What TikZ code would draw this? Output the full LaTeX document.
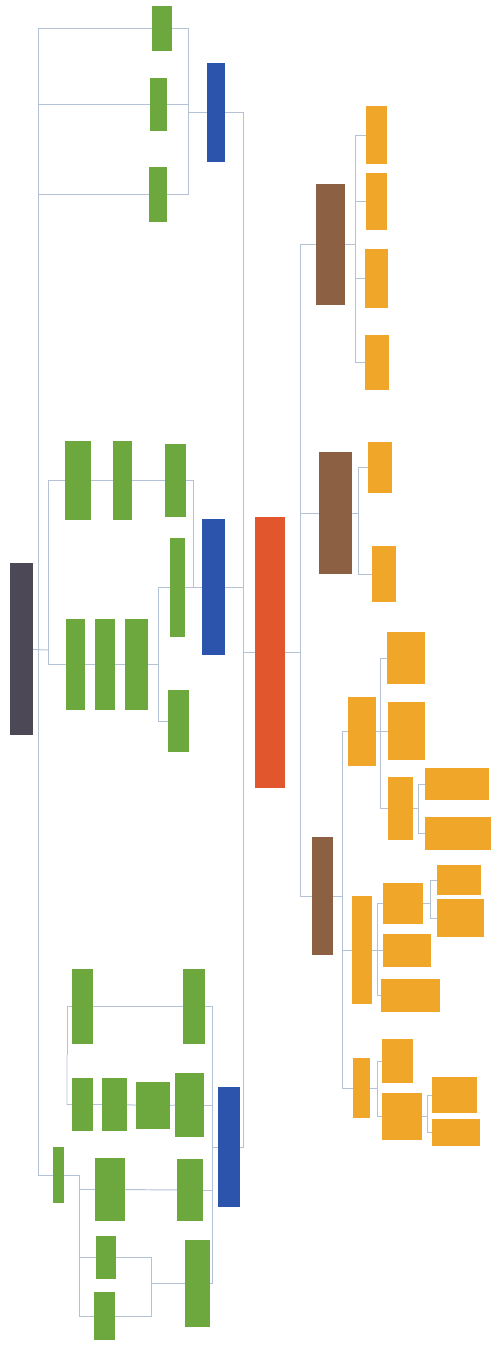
\documentclass[tikz,border=0pt]{standalone}
\usetikzlibrary{backgrounds}
\definecolor{mmG}{RGB}{108,168,62}
\definecolor{mmB}{RGB}{44,84,172}
\definecolor{mmR}{RGB}{226,86,46}
\definecolor{mmN}{RGB}{140,96,66}
\definecolor{mmO}{RGB}{240,166,40}
\definecolor{mmD}{RGB}{76,72,86}
\definecolor{mmL}{RGB}{180,194,214}
\newcommand{\PX}{0.02cm}

\begin{document}
\begin{tikzpicture}[
    x=\PX, y=-\PX,
    box/.style={rectangle, inner sep=0pt, outer sep=0pt},
    gbox/.style={box, fill=mmG},
    bbox/.style={box, fill=mmB},
    rbox/.style={box, fill=mmR},
    nbox/.style={box, fill=mmN},
    obox/.style={box, fill=mmO},
    dbox/.style={box, fill=mmD},
    link/.style={draw=mmL, line width=0.55pt},
  ]
  \useasboundingbox (0,0) rectangle (491,1345);

  % box from its corners: #1 name, #2 style, #3 #4 top left, #5 #6 bottom right
  \newcommand{\bx}[6]{%
    \node[#2, minimum width={(#5-#3)*\PX}, minimum height={(#6-#4)*\PX}]
      (#1) at ({(#3+#5)/2},{(#4+#6)/2}) {};}

  %% ================= root and first level =================
  \bx{root}{rbox}{255}{517}{285}{788}
  \bx{dark}{dbox}{10}{563}{33}{735}
  \foreach \n/\a/\b/\c/\d in {blu1/207/63/225/162, blu2/202/519/225/655,
                              blu3/218/1087/240/1207}
    {\bx{\n}{bbox}{\a}{\b}{\c}{\d}}
  \foreach \n/\a/\b/\c/\d in {brn1/316/184/345/305, brn2/319/452/352/574,
                              brn3/312/837/333/955}
    {\bx{\n}{nbox}{\a}{\b}{\c}{\d}}

  %% ================= green branches (left) =================
  \foreach \n/\a/\b/\c/\d in {
      g1a/152/6/172/51, g1b/150/78/167/131, g1c/149/167/167/222,
      m1/65/441/91/520, m2/113/441/132/520, m3/165/444/186/517,
      m4/170/538/185/637, m5/168/690/189/752,
      m6/66/619/85/710, m7/95/619/115/710, m8/125/619/148/710,
      s0/53/1147/64/1203,
      e1/72/969/93/1044, e2/183/969/205/1044,
      b1/72/1078/93/1131, b2/102/1078/127/1131, b3/136/1082/170/1129,
      b4/175/1073/204/1137,
      c1/95/1158/125/1221, c2/177/1159/203/1221,
      d1/96/1236/116/1279, d2/94/1292/115/1340, d3/185/1240/210/1327}
    {\bx{\n}{gbox}{\a}{\b}{\c}{\d}}

  %% ================= orange branches (right) =================
  \foreach \n/\a/\b/\c/\d in {
      o1/366/106/387/164, o2/366/173/387/230, o3/365/249/388/308,
      o4/365/335/389/390, o5/368/442/392/493, o6/372/546/396/602,
      oa/348/697/376/766, oa1/387/632/425/684, oa2/388/702/425/760,
      oa3/388/777/413/840, oa31/425/768/489/800, oa32/425/817/491/850,
      ob/352/896/372/1004, ob1/383/883/423/924, ob11/437/865/481/895,
      ob12/437/899/484/937, ob2/383/934/431/967, ob3/381/979/440/1012,
      oc/353/1058/370/1118, oc1/382/1039/413/1083, oc2/382/1093/422/1140,
      oc21/432/1077/477/1113, oc22/432/1119/480/1146}
    {\bx{\n}{obox}{\a}{\b}{\c}{\d}}

  % bracket points
  \coordinate (jL) at (243,652.5);  \coordinate (jR) at (300,652.5);
  \coordinate (k1) at (355,244.5);  \coordinate (k2) at (358,513);
  \coordinate (k3) at (342,896);    \coordinate (ka) at (380,731.5);
  \coordinate (ka3) at (418,808.5); \coordinate (kb) at (377,950);
  \coordinate (kb1) at (430,903.5); \coordinate (kc) at (377,1088);
  \coordinate (kc2) at (427,1116.5);
  \coordinate (q1) at (188,112.5);  \coordinate (Ltop) at (38,28.5);
  \coordinate (q2) at (158,587);    \coordinate (q4) at (193,587);
  \coordinate (q3) at (48,650);     \coordinate (q5) at (212,1147);
  \coordinate (q6) at (67,1055);    \coordinate (q7) at (79,1175);
  \coordinate (q8) at (151,1283.5);

  \begin{scope}[on background layer]
    % root to first level
    \draw[link] (root) -- (jL) (root) -- (jR);
    \foreach \n in {blu1,blu2,blu3} \draw[link] (jL) |- (\n);
    \foreach \n in {brn1,brn2,brn3} \draw[link] (jR) |- (\n);

    % right side
    \draw[link] (brn1) -- (k1);
    \foreach \n in {o1,o2,o3,o4} \draw[link] (k1) |- (\n);
    \draw[link] (brn2) -- (k2);
    \foreach \n in {o5,o6} \draw[link] (k2) |- (\n);
    \draw[link] (brn3) -- (k3);
    \foreach \n in {oa,ob,oc} \draw[link] (k3) |- (\n);
    \draw[link] (oa) -- (ka);
    \foreach \n in {oa1,oa2,oa3} \draw[link] (ka) |- (\n);
    \draw[link] (oa3) -- (ka3);
    \foreach \n in {oa31,oa32} \draw[link] (ka3) |- (\n);
    \draw[link] (ob) -- (kb);
    \foreach \n in {ob1,ob2,ob3} \draw[link] (kb) |- (\n);
    \draw[link] (ob1) -- (kb1);
    \foreach \n in {ob11,ob12} \draw[link] (kb1) |- (\n);
    \draw[link] (oc) -- (kc);
    \foreach \n in {oc1,oc2} \draw[link] (kc) |- (\n);
    \draw[link] (oc2) -- (kc2);
    \foreach \n in {oc21,oc22} \draw[link] (kc2) |- (\n);

    % left side, top
    \draw[link] (blu1) -- (q1);
    \foreach \n in {g1a,g1b,g1c} \draw[link] (q1) |- (\n);
    \draw[link] (g1a) -- (Ltop);
    \draw[link] (g1b) -- (g1b -| Ltop);
    \draw[link] (g1c) -- (g1c -| Ltop);
    \draw[link] (Ltop) |- (s0);

    % left side, middle
    \draw[link] (blu2) -- (q2);
    \draw[link] (q4) |- (m3);
    \draw[link] (m3) -- (m2) -- (m1) -| (q3);
    \draw[link] (q2) |- (m8);
    \draw[link] (m8) -- (m7) -- (m6) -| (q3);
    \draw[link] (q2) |- (m5);
    \draw[link] (dark) -- (q3);

    % left side, bottom
    \draw[link] (blu3) -- (q5);
    \foreach \n in {e2,b4,c2,d3} \draw[link] (q5) |- (\n);
    \draw[link] (e2) -- (e1) -| (q6);
    \draw[link] (b4) -- (b3) -- (b2) -- (b1) -| (q6);
    \draw[link] (s0) -- (q7);
    \foreach \n in {c1,d1,d2} \draw[link] (q7) |- (\n);
    \draw[link] (c1) -- (c2);
    \draw[link] (d1) -| (q8);
    \draw[link] (d2) -| (q8);
    \draw[link] (q8) -- (d3);
  \end{scope}

\end{tikzpicture}
\end{document}
